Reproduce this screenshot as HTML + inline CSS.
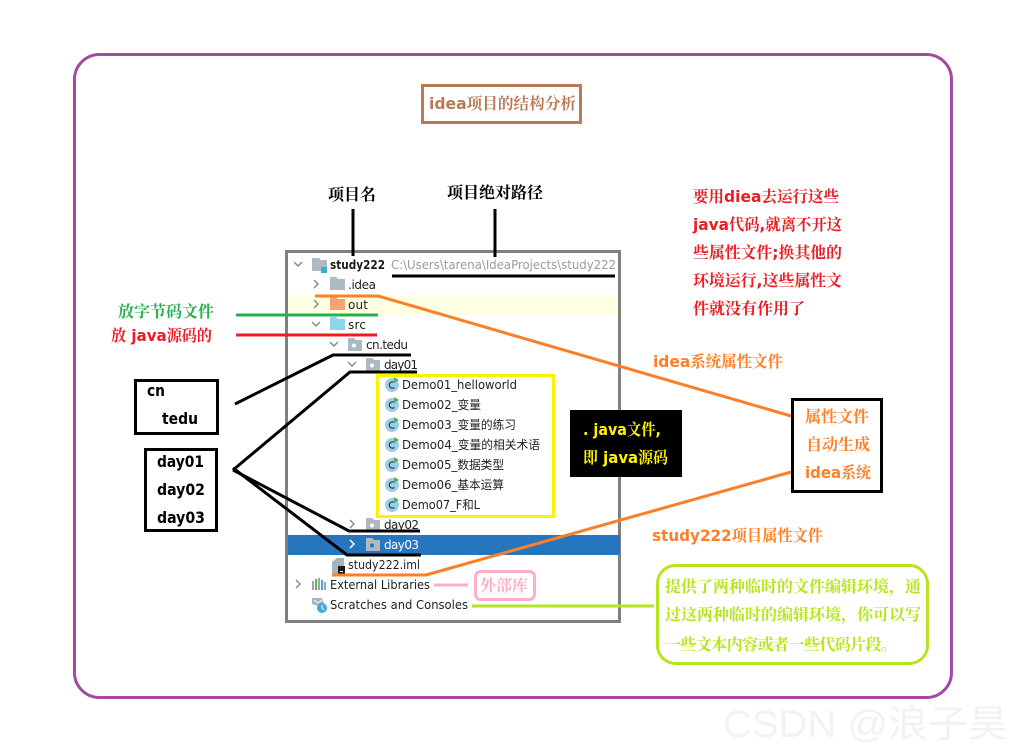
<!DOCTYPE html>
<html>
<head>
<meta charset="utf-8">
<style>
html,body{margin:0;padding:0;background:#fff;}
svg{display:block;}
text{font-family:"DejaVu Sans","Noto Sans CJK SC",sans-serif;}
.h{font-size:16px;font-weight:bold;font-family:"DejaVu Sans","Noto Serif CJK SC",serif;}
.t{font-size:12px;fill:#1f1f1f;font-family:"DejaVu Sans","Noto Sans CJK SC",sans-serif;}
.chev{fill:none;stroke:#8c8c8c;stroke-width:1.5;}
</style>
</head>
<body>
<svg width="1022" height="755" viewBox="0 0 1022 755" xmlns="http://www.w3.org/2000/svg">
<defs>
<path id="folder" d="M0 0H6L8 2H15V13H0Z"/>
<g id="pkg"><path d="M0 0H6L8 2H14V13H0Z" fill="#AEB9C0"/><circle cx="6" cy="7.5" r="2" fill="#fff"/></g>
<g id="cls"><circle cx="0" cy="0" r="7" fill="#9AD0EA"/><path d="M2.5 -2.5A3.2 3.2 0 1 0 2.5 2.5" fill="none" stroke="#3a3a3a" stroke-width="1.2"/><path d="M2 -8L7 -5L2 -2Z" fill="#59A869"/></g>
</defs>
<rect width="1022" height="755" fill="#fff"/>

<!-- outer -->
<rect x="74.5" y="54.5" width="877" height="643" rx="25" ry="25" fill="none" stroke="#A349A4" stroke-width="3"/>

<!-- title -->
<rect x="422.5" y="85.5" width="158" height="37" fill="none" stroke="#B97A57" stroke-width="3"/>
<text class="h" x="429" y="109" fill="#B97A57" textLength="147" lengthAdjust="spacingAndGlyphs">idea项目的结构分析</text>

<text class="h" x="328" y="200" fill="#000" textLength="48">项目名</text>
<text class="h" x="447" y="198" fill="#000" textLength="96">项目绝对路径</text>

<g fill="#ED1C24" class="h">
<text class="h" x="693" y="202" textLength="146" lengthAdjust="spacingAndGlyphs">要用diea去运行这些</text>
<text class="h" x="693" y="230" textLength="149" lengthAdjust="spacingAndGlyphs">java代码,就离不开这</text>
<text class="h" x="693" y="258" textLength="149" lengthAdjust="spacingAndGlyphs">些属性文件;换其他的</text>
<text class="h" x="693" y="286" textLength="149" lengthAdjust="spacingAndGlyphs">环境运行,这些属性文</text>
<text class="h" x="693" y="314" textLength="112">件就没有作用了</text>
</g>

<!-- tree panel -->
<rect x="286.5" y="251.5" width="333" height="370" fill="#fff" stroke="#808080" stroke-width="3"/>
<rect x="288" y="295" width="330" height="20" fill="#FFFFE4"/>
<rect x="288" y="535" width="332" height="20" fill="#2675BF"/>

<!-- chevrons -->
<path class="chev" d="M294 262L298 266L302 262"/>
<path class="chev" d="M314 280L318 284L314 288"/>
<path class="chev" d="M314 300L318 304L314 308"/>
<path class="chev" d="M312 322L316 326L320 322"/>
<path class="chev" d="M330 342L334 346L338 342"/>
<path class="chev" d="M348 362L352 366L356 362"/>
<path class="chev" d="M350 520L354 524L350 528"/>
<path class="chev" d="M350 540L354 544L350 548" style="stroke:#fff"/>
<path class="chev" d="M296 580L300 584L296 588"/>

<!-- folder icons -->
<path d="M312 258H319L321 260H327V271H312Z" fill="#AEB9C0"/>
<rect x="321" y="267" width="6" height="6" fill="#3FA9DC"/>
<use href="#folder" x="330" y="277" fill="#AEB9C0"/>
<use href="#folder" x="330" y="297" fill="#F4A672"/>
<use href="#folder" x="330" y="317" fill="#8FD3EF"/>
<use href="#pkg" x="348" y="338"/>
<use href="#pkg" x="366" y="358"/>
<use href="#pkg" x="366" y="518"/>
<path d="M366 538H372L374 540H380V551H366Z" fill="#AEB9C0"/><circle cx="372" cy="545.5" r="2" fill="#2675BF"/>

<!-- iml icon -->
<path d="M332 562L337 558H344V574H332Z" fill="#A9B3BA"/>
<rect x="338" y="566" width="7" height="8" fill="#1a1a1a"/><rect x="340" y="571" width="3" height="1" fill="#fff"/>
<!-- libs icon -->
<rect x="312" y="581" width="2" height="9" fill="#9AA7B0"/>
<rect x="315" y="579" width="2" height="11" fill="#62B543"/>
<rect x="318" y="578" width="2" height="12" fill="#9AA7B0"/>
<rect x="321" y="580" width="2" height="10" fill="#3FA9DC"/>
<rect x="324" y="582" width="2" height="8" fill="#9AA7B0"/>
<!-- scratches icon -->
<path d="M312 598H322L324 604L318 606L312 604Z" fill="#A9B3BA"/>
<path d="M314 600L318 603L322 600" fill="none" stroke="#fff"/>
<circle cx="322" cy="608" r="5" fill="#3FA9DC"/>
<path d="M322 605V608L324 610" fill="none" stroke="#fff"/>

<!-- tree text -->
<text x="330" y="269" font-size="12" font-weight="bold" fill="#1a1a1a" textLength="55" lengthAdjust="spacingAndGlyphs">study222</text>
<text x="391" y="269" font-size="12" fill="#9b9b9b" textLength="225" lengthAdjust="spacingAndGlyphs">C:\Users\tarena\IdeaProjects\study222</text>
<text class="t" x="348" y="289" textLength="28">.idea</text>
<text class="t" x="348" y="309" textLength="20">out</text>
<text class="t" x="348" y="329" textLength="18">src</text>
<text class="t" x="366" y="349" textLength="42">cn.tedu</text>
<text class="t" x="384" y="369" textLength="34">day01</text>
<text class="t" x="402" y="389" textLength="115" lengthAdjust="spacingAndGlyphs">Demo01_helloworld</text>
<text class="t" x="402" y="409" textLength="79" lengthAdjust="spacingAndGlyphs">Demo02_变量</text>
<text class="t" x="402" y="429" textLength="114" lengthAdjust="spacingAndGlyphs">Demo03_变量的练习</text>
<text class="t" x="402" y="449" textLength="138" lengthAdjust="spacingAndGlyphs">Demo04_变量的相关术语</text>
<text class="t" x="402" y="469" textLength="102" lengthAdjust="spacingAndGlyphs">Demo05_数据类型</text>
<text class="t" x="402" y="489" textLength="102" lengthAdjust="spacingAndGlyphs">Demo06_基本运算</text>
<text class="t" x="402" y="509" textLength="78" lengthAdjust="spacingAndGlyphs">Demo07_F和L</text>
<text class="t" x="384" y="529" textLength="35">day02</text>
<text class="t" x="384" y="549" textLength="35" style="fill:#fff">day03</text>
<text class="t" x="348" y="569" textLength="72" lengthAdjust="spacingAndGlyphs">study222.iml</text>
<text class="t" x="330" y="589" textLength="100" lengthAdjust="spacingAndGlyphs">External Libraries</text>
<text class="t" x="330" y="609" textLength="138" lengthAdjust="spacingAndGlyphs">Scratches and Consoles</text>

<!-- class icons -->
<use href="#cls" x="392" y="385"/>
<use href="#cls" x="392" y="405"/>
<use href="#cls" x="392" y="425"/>
<use href="#cls" x="392" y="445"/>
<use href="#cls" x="392" y="465"/>
<use href="#cls" x="392" y="485"/>
<use href="#cls" x="392" y="505"/>

<!-- yellow box -->
<rect x="377.5" y="375.5" width="176" height="141" fill="none" stroke="#FFF200" stroke-width="3"/>

<!-- black box -->
<rect x="570" y="410" width="112" height="67" fill="#000"/>
<text class="h" x="583" y="435" fill="#FFF200" textLength="78" lengthAdjust="spacingAndGlyphs">. java文件,</text>
<text class="h" x="583" y="463" fill="#FFF200" textLength="85" lengthAdjust="spacingAndGlyphs">即 java源码</text>

<!-- black connectors -->
<g fill="none" stroke="#000" stroke-width="3">
<path d="M353 209V256"/>
<path d="M495 209V257"/>
<path d="M392 276H615"/>
<path d="M235 404L333 355H411"/>
<path d="M233 470L350 372H417"/>
<path d="M233 470L349 531H420"/>
<path d="M233 468L347 555H421"/>
</g>

<!-- green/red -->
<path d="M236 315H378" stroke="#22B14C" stroke-width="3"/>
<path d="M236 335H377" stroke="#ED1C24" stroke-width="3"/>
<text class="h" x="118" y="317" fill="#22B14C" textLength="96">放字节码文件</text>
<text class="h" x="111" y="341" fill="#ED1C24" textLength="101" lengthAdjust="spacingAndGlyphs">放 java源码的</text>

<!-- cn box -->
<rect x="135.5" y="380.5" width="82" height="53" fill="none" stroke="#000" stroke-width="3"/>
<text class="h" x="147" y="396" fill="#000" textLength="18" lengthAdjust="spacingAndGlyphs">cn</text>
<text class="h" x="162" y="424" fill="#000" textLength="36" lengthAdjust="spacingAndGlyphs">tedu</text>

<!-- day box -->
<rect x="145.5" y="449.5" width="71" height="81" fill="none" stroke="#000" stroke-width="3"/>
<text class="h" x="157" y="467" fill="#000" textLength="47" lengthAdjust="spacingAndGlyphs">day01</text>
<text class="h" x="157" y="495" fill="#000" textLength="48" lengthAdjust="spacingAndGlyphs">day02</text>
<text class="h" x="157" y="523" fill="#000" textLength="48" lengthAdjust="spacingAndGlyphs">day03</text>

<!-- orange -->
<g fill="none" stroke="#FF7F27" stroke-width="3">
<path d="M315 296H378L791 416"/>
<path d="M332 575H426L791 472"/>
</g>
<rect x="792.5" y="399.5" width="89" height="92" fill="#fff" stroke="#000" stroke-width="3"/>
<text class="h" x="805" y="422" fill="#FF7F27" textLength="64">属性文件</text>
<text class="h" x="806" y="450" fill="#FF7F27" textLength="64">自动生成</text>
<text class="h" x="805" y="478" fill="#FF7F27" textLength="66" lengthAdjust="spacingAndGlyphs">idea系统</text>
<text class="h" x="653" y="367" fill="#FF7F27" textLength="130" lengthAdjust="spacingAndGlyphs">idea系统属性文件</text>
<text class="h" x="652" y="541" fill="#FF7F27" textLength="171" lengthAdjust="spacingAndGlyphs">study222项目属性文件</text>

<!-- pink -->
<path d="M434 585H468" stroke="#FFAEC9" stroke-width="3"/>
<rect x="475.5" y="571.5" width="59" height="28" rx="5" fill="#fff" stroke="#FFAEC9" stroke-width="3"/>
<text class="h" x="480" y="591" fill="#FFAEC9" textLength="48">外部库</text>

<!-- lime -->
<path d="M472 606H654" stroke="#B5E61D" stroke-width="3"/>
<rect x="657.5" y="565.5" width="270" height="98" rx="18" fill="#fff" stroke="#B5E61D" stroke-width="3"/>
<text class="h" x="665" y="592" fill="#B5E61D" textLength="256">提供了两种临时的文件编辑环境，通</text>
<text class="h" x="665" y="620" fill="#B5E61D" textLength="256">过这两种临时的编辑环境，你可以写</text>
<text class="h" x="665" y="650" fill="#B5E61D" textLength="232">一些文本内容或者一些代码片段。</text>

<!-- watermark -->
<text x="723" y="737" font-size="38" fill="#f2f2f2" style='font-family:"Liberation Sans","Noto Sans CJK SC",sans-serif' textLength="285" lengthAdjust="spacingAndGlyphs">CSDN @浪子昊</text>
</svg>
</body>
</html>
